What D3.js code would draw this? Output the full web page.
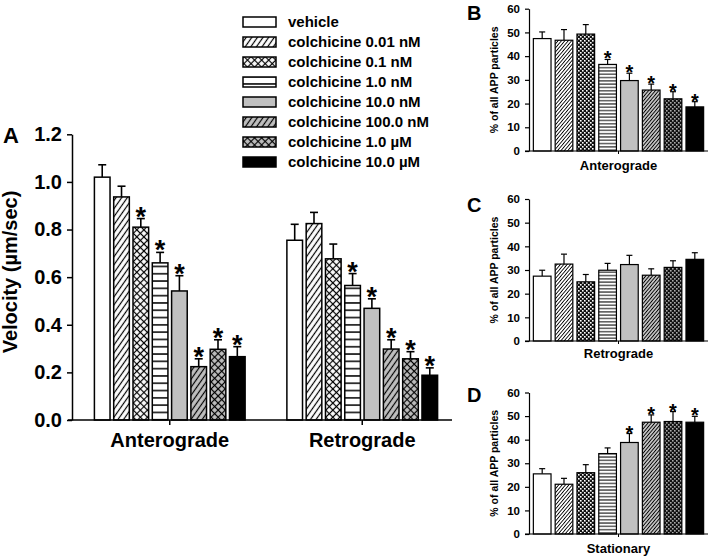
<!DOCTYPE html>
<html><head><meta charset="utf-8">
<script src="https://cdn.jsdelivr.net/npm/d3@7"></script>
<style>
body{margin:0;background:#fff}
svg{display:block}
text{font-family:"Liberation Sans",Arial,sans-serif;font-weight:bold;fill:#000}
</style>
</head><body><svg id="c" width="714" height="558"></svg>
<script>
const seriesNames = ["vehicle","colchicine 0.01 nM","colchicine 0.1 nM","colchicine 1.0 nM","colchicine 10.0 nM","colchicine 100.0 nM","colchicine 1.0 \u00b5M","colchicine 10.0 \u00b5M"];
const velocityGroups = ["Anterograde","Retrograde"];
const velocityAntero = [1.02,0.937,0.81,0.66,0.542,0.224,0.297,0.266];
const velocityAnteroErr = [0.052,0.045,0.036,0.044,0.064,0.033,0.04,0.042];
const velocityAnteroStar = [0,0,1,1,1,1,1,1];
const velocityRetro = [0.755,0.825,0.677,0.565,0.469,0.298,0.257,0.188];
const velocityRetroErr = [0.067,0.047,0.062,0.05,0.04,0.039,0.03,0.031];
const velocityRetroStar = [0,0,0,1,1,1,1,1];
const velocityTicks = [0,0.2,0.4,0.6,0.8,1.0,1.2];
const pctAntero = [47.4,46.7,49.3,36.5,29.7,25.7,22.0,18.6];
const pctAnteroErr = [2.8,4.5,4.0,2.1,3.1,2.5,3.0,2.2];
const pctAnteroStar = [0,0,0,1,1,1,1,1];
const pctRetro = [27.4,32.5,25.0,29.9,32.3,27.8,31.1,34.5];
const pctRetroErr = [2.5,4.2,3.1,2.9,3.9,2.7,2.8,2.8];
const pctRetroStar = [0,0,0,0,0,0,0,0];
const pctStat = [25.5,21.1,26.0,34.1,38.8,47.4,47.7,47.4];
const pctStatErr = [2.2,2.5,3.4,2.4,3.8,3.1,4.2,2.5];
const pctStatStar = [0,0,0,0,1,1,1,1];
const pctTicks = [0,10,20,30,40,50,60];

const svg = d3.select("#c");
const defs = svg.append("defs");
const GRAY = "#c0c0c0";

function diag(id,bg,w,sw,angle){
  const p = defs.append("pattern").attr("id",id).attr("patternUnits","userSpaceOnUse")
    .attr("width",w).attr("height",w).attr("patternTransform",`rotate(${angle})`);
  p.append("rect").attr("width",w).attr("height",w).attr("fill",bg);
  p.append("line").attr("x1",w/2).attr("x2",w/2).attr("y1",0).attr("y2",w).attr("stroke","#000").attr("stroke-width",sw);
}
function cross(id,bg,w,sw){
  const p = defs.append("pattern").attr("id",id).attr("patternUnits","userSpaceOnUse")
    .attr("width",w).attr("height",w).attr("patternTransform","rotate(45)");
  p.append("rect").attr("width",w).attr("height",w).attr("fill",bg);
  p.append("line").attr("x1",w/2).attr("x2",w/2).attr("y1",0).attr("y2",w).attr("stroke","#000").attr("stroke-width",sw);
  p.append("line").attr("y1",w/2).attr("y2",w/2).attr("x1",0).attr("x2",w).attr("stroke","#000").attr("stroke-width",sw);
}
function horiz(id,bg,h,sw){
  const p = defs.append("pattern").attr("id",id).attr("patternUnits","userSpaceOnUse")
    .attr("width",10).attr("height",h);
  p.append("rect").attr("width",10).attr("height",h).attr("fill",bg);
  p.append("line").attr("x1",0).attr("x2",10).attr("y1",h/2).attr("y2",h/2).attr("stroke","#000").attr("stroke-width",sw);
}
function checker(id,dark,light){
  const p = defs.append("pattern").attr("id",id).attr("patternUnits","userSpaceOnUse")
    .attr("width",4).attr("height",4);
  p.append("rect").attr("width",4).attr("height",4).attr("fill",dark);
  p.append("rect").attr("x",0).attr("y",0).attr("width",1.6).attr("height",1.6).attr("fill",light);
  p.append("rect").attr("x",2).attr("y",2).attr("width",1.6).attr("height",1.6).attr("fill",light);
}
diag("A1","#fff",4.6,1.2,35);
cross("A2","#fff",5,1.2);
horiz("A3","#fff",7.3,1.5);
diag("A5",GRAY,4.6,1.2,35);
cross("A6",GRAY,5,1.2);
diag("S1","#fff",2.6,0.9,40);
checker("S2","#111","#fff");
horiz("S3","#fff",3.3,1);
diag("S5",GRAY,2.6,0.9,40);
checker("S6","#111","#aaa");

const fillA = ["#fff","url(#A1)","url(#A2)","url(#A3)",GRAY,"url(#A5)","url(#A6)","#000"];
const fillS = ["#fff","url(#S1)","url(#S2)","url(#S3)",GRAY,"url(#S5)","url(#S6)","#000"];

// ---------- Panel A ----------
const yA = d3.scaleLinear().domain([0,1.2]).range([420,134.3]);
const x0 = d3.scaleBand().domain(velocityGroups).range([74,458]).paddingInner(0.217).paddingOuter(0.106);
const x1 = d3.scaleBand().domain(seriesNames).range([0,x0.bandwidth()]).paddingInner(0.19).paddingOuter(0);
const gA = svg.append("g");
const groupData = [
  {g:"Anterograde", v:velocityAntero, e:velocityAnteroErr, s:velocityAnteroStar},
  {g:"Retrograde", v:velocityRetro, e:velocityRetroErr, s:velocityRetroStar}
];
groupData.forEach(gd=>{
  const gg = gA.append("g").attr("transform",`translate(${x0(gd.g)},0)`);
  seriesNames.forEach((s,i)=>{
    const bx = x1(s), bw = x1.bandwidth(), cx = bx+bw/2;
    const capY = yA(gd.v[i]+gd.e[i]);
    gg.append("line").attr("x1",cx).attr("x2",cx).attr("y1",yA(gd.v[i])).attr("y2",capY).attr("stroke","#000").attr("stroke-width",1.6);
    gg.append("line").attr("x1",cx-4).attr("x2",cx+4).attr("y1",capY).attr("y2",capY).attr("stroke","#000").attr("stroke-width",1.6);
    gg.append("rect").attr("x",bx).attr("y",yA(gd.v[i])).attr("width",bw).attr("height",yA(0)-yA(gd.v[i]))
      .attr("fill",fillA[i]).attr("stroke","#000").attr("stroke-width",1.5);
    if(gd.s[i]) gg.append("text").attr("x",cx).attr("y",capY+7).attr("text-anchor","middle").style("font-size","27px").text("*");
  });
});
// axes A
const axA = gA.append("g").attr("transform","translate(72,0)")
  .call(d3.axisLeft(yA).tickValues(velocityTicks).tickFormat(d3.format(".1f")).tickSize(5).tickPadding(5).tickSizeOuter(0));
axA.selectAll("path,line").attr("stroke","#000").attr("stroke-width",1.5);
axA.selectAll("text").style("font-size","20px").attr("font-family",null);
const axAx = gA.append("g").attr("transform","translate(0,420)")
  .call(d3.axisBottom(x0).tickSize(5).tickPadding(8).tickSizeOuter(0));
axAx.select(".domain").remove();
axAx.selectAll("line").attr("stroke","#000").attr("stroke-width",1.5);
axAx.selectAll("text").attr("dy",null).attr("y",27).style("font-size","20px").attr("font-family",null);
gA.append("line").attr("x1",68).attr("x2",452).attr("y1",420).attr("y2",420).attr("stroke","#000").attr("stroke-width",1.5);
gA.append("text").attr("transform","translate(16.5,272) rotate(-90)").attr("text-anchor","middle").style("font-size","20px").text("Velocity (\u00b5m/sec)");
gA.append("text").attr("x",3).attr("y",143).style("font-size","22px").text("A");

// ---------- Legend ----------
const leg = svg.append("g");
seriesNames.forEach((s,i)=>{
  const cy = 22 + 20*i;
  leg.append("rect").attr("x",243).attr("y",cy-5).attr("width",33).attr("height",10)
    .attr("fill",fillA[i]).attr("stroke","#000").attr("stroke-width",1.5);
  leg.append("text").attr("x",288).attr("y",cy).attr("dy","0.36em").style("font-size","15px").text(s);
});

// ---------- Panels B, C, D ----------
function panel(vals, errs, stars, y0, y60, label, labelY, letter, letterY){
  const y = d3.scaleLinear().domain([0,60]).range([y0,y60]);
  const x = d3.scaleBand().domain(seriesNames).range([529,708]).paddingInner(0.19).paddingOuter(0.2);
  const g = svg.append("g");
  seriesNames.forEach((s,i)=>{
    const bx = x(s), bw = x.bandwidth(), cx = bx+bw/2;
    const capY = y(vals[i]+errs[i]);
    g.append("line").attr("x1",cx).attr("x2",cx).attr("y1",y(vals[i])).attr("y2",capY).attr("stroke","#000").attr("stroke-width",1.2);
    g.append("line").attr("x1",cx-3).attr("x2",cx+3).attr("y1",capY).attr("y2",capY).attr("stroke","#000").attr("stroke-width",1.2);
    g.append("rect").attr("x",bx).attr("y",y(vals[i])).attr("width",bw).attr("height",y(0)-y(vals[i]))
      .attr("fill",fillS[i]).attr("stroke","#000").attr("stroke-width",1.2);
    if(stars[i]) g.append("text").attr("x",cx).attr("y",capY+6).attr("text-anchor","middle").style("font-size","20px").text("*");
  });
  const ax = g.append("g").attr("transform","translate(529,0)")
    .call(d3.axisLeft(y).tickValues(pctTicks).tickSize(4).tickPadding(5).tickSizeOuter(0));
  ax.selectAll("path,line").attr("stroke","#000").attr("stroke-width",1.2);
  ax.selectAll("text").style("font-size","11.5px").attr("font-family",null);
  g.append("line").attr("x1",525).attr("x2",708).attr("y1",y0).attr("y2",y0).attr("stroke","#000").attr("stroke-width",1.2);
  g.append("line").attr("x1",(529+708)/2).attr("x2",(529+708)/2).attr("y1",y0).attr("y2",y0+3).attr("stroke","#000").attr("stroke-width",1);
  g.append("text").attr("x",(529+708)/2).attr("y",labelY).attr("text-anchor","middle").style("font-size","13px").text(label);
  g.append("text").attr("transform",`translate(498,${(y0+y60)/2}) rotate(-90)`).attr("text-anchor","middle").style("font-size","10.5px").text("% of all APP particles");
  g.append("text").attr("x",467).attr("y",letterY).style("font-size","20px").text(letter);
}
panel(pctAntero,pctAnteroErr,pctAnteroStar,151,8.7,"Anterograde",170,"B",19.5);
panel(pctRetro,pctRetroErr,pctRetroStar,341,199,"Retrograde",358,"C",211.5);
panel(pctStat,pctStatErr,pctStatStar,534,392.5,"Stationary",553,"D",401.5);
</script>
</body></html>
